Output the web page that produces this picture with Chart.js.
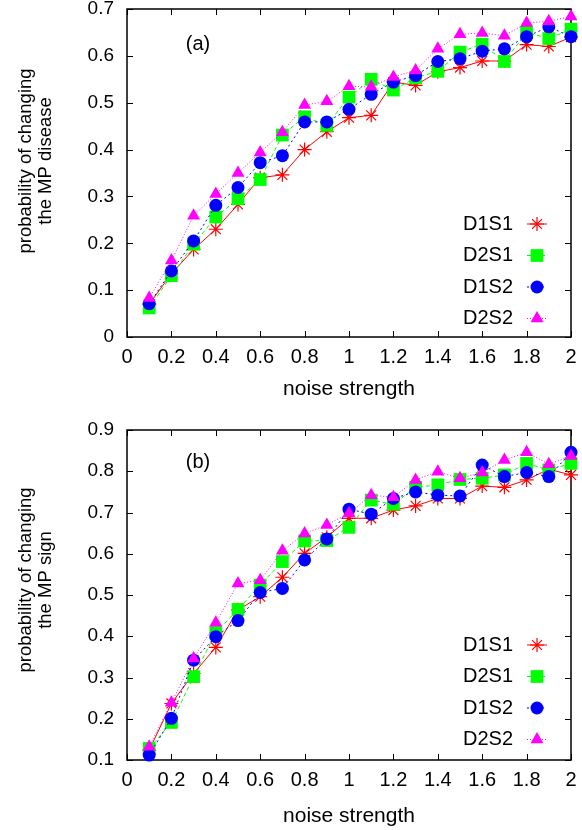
<!DOCTYPE html>
<html>
<head>
<meta charset="utf-8">
<script src="https://cdn.jsdelivr.net/npm/chart.js@4.4.0/dist/chart.umd.min.js"></script>
<style>
html, body { margin: 0; padding: 0; background: #fff; }
#wrap { position: relative; width: 582px; height: 830px; overflow: hidden; }
canvas { position: absolute; left: 0; }
#c1 { top: 0; }
#c2 { top: 415px; }
</style>
</head>
<body>
<div id="wrap">
	<canvas id="c1" width="582" height="415"></canvas>
	<canvas id="c2" width="582" height="415"></canvas>
</div>
<script>
// noise strength values (x)
var noise = [0.1, 0.2, 0.3, 0.4, 0.5, 0.6, 0.7, 0.8, 0.9, 1.0,
             1.1, 1.2, 1.3, 1.4, 1.5, 1.6, 1.7, 1.8, 1.9, 2.0];
var seriesNames = ['D1S1', 'D2S1', 'D1S2', 'D2S2'];

// (a) probability of changing the MP disease
var diseaseD1S1 = [0.070, 0.135, 0.187, 0.230, 0.283, 0.340, 0.346, 0.400, 0.438, 0.468,
                   0.473, 0.544, 0.537, 0.566, 0.575, 0.589, 0.589, 0.624, 0.620, 0.640];
var diseaseD2S1 = [0.062, 0.131, 0.198, 0.256, 0.295, 0.336, 0.431, 0.470, 0.452, 0.512,
                   0.550, 0.527, 0.553, 0.567, 0.608, 0.625, 0.588, 0.650, 0.637, 0.657];
var diseaseD1S2 = [0.071, 0.141, 0.205, 0.281, 0.319, 0.372, 0.387, 0.459, 0.459, 0.486,
                   0.518, 0.544, 0.558, 0.588, 0.594, 0.610, 0.615, 0.641, 0.662, 0.641];
var diseaseD2S2 = [0.083, 0.163, 0.259, 0.305, 0.350, 0.394, 0.437, 0.495, 0.503, 0.535,
                   0.534, 0.555, 0.569, 0.615, 0.646, 0.649, 0.643, 0.670, 0.674, 0.684];

// (b) probability of changing the MP sign
var signD1S1 = [0.124, 0.237, 0.310, 0.373, 0.464, 0.496, 0.543, 0.601, 0.640, 0.686,
                0.686, 0.706, 0.716, 0.734, 0.734, 0.764, 0.761, 0.779, 0.805, 0.791];
var signD2S1 = [0.128, 0.191, 0.302, 0.409, 0.465, 0.524, 0.581, 0.631, 0.632, 0.664,
                0.730, 0.720, 0.761, 0.767, 0.780, 0.783, 0.791, 0.819, 0.803, 0.819];
var signD1S2 = [0.112, 0.201, 0.342, 0.399, 0.438, 0.506, 0.516, 0.585, 0.636, 0.708,
                0.696, 0.734, 0.750, 0.742, 0.740, 0.815, 0.787, 0.797, 0.787, 0.846];
var signD2S2 = [0.132, 0.239, 0.346, 0.433, 0.528, 0.536, 0.607, 0.649, 0.670, 0.698,
                0.742, 0.737, 0.779, 0.799, 0.783, 0.797, 0.827, 0.846, 0.817, 0.837];

var FONT = '"Liberation Sans", Arial, sans-serif';
Chart.defaults.font.family = FONT;
Chart.defaults.font.size = 19;
Chart.defaults.color = '#000';

// gnuplot-like look for each series
var seriesStyle = [
	{ color: '#ff0000', dash: [],     point: 'star',     radius: 7,   pbw: 1.2 },
	{ color: '#00ff00', dash: [4, 3], point: 'rect',     radius: 9,   pbw: 0 },
	{ color: '#0000ff', dash: [2, 3], point: 'circle',   radius: 6.5, pbw: 0 },
	{ color: '#ff00ff', dash: [1, 2], point: 'triangle', radius: 7.5, pbw: 0 }
];

function fmt(v) {
	return String(Math.round(v * 10) / 10);
}

// frame with inward ticks on all four sides, plus key and labels
var gnuFrame = {
	id: 'gnuFrame',
	beforeDatasetsDraw: function(chart) {
		var ctx = chart.ctx, ca = chart.chartArea;
		var sx = chart.scales.x, sy = chart.scales.y;
		ctx.save();
		ctx.strokeStyle = '#000';
		ctx.lineWidth = 1.5;
		ctx.strokeRect(ca.left, ca.top, ca.right - ca.left, ca.bottom - ca.top);
		ctx.lineWidth = 1;
		ctx.beginPath();
		sx.ticks.forEach(function(t) {
			var px = Math.round(sx.getPixelForValue(t.value)) + 0.5;
			ctx.moveTo(px, ca.bottom); ctx.lineTo(px, ca.bottom - 6);
			ctx.moveTo(px, ca.top); ctx.lineTo(px, ca.top + 6);
		});
		sy.ticks.forEach(function(t) {
			var py = Math.round(sy.getPixelForValue(t.value)) + 0.5;
			ctx.moveTo(ca.left, py); ctx.lineTo(ca.left + 6, py);
			ctx.moveTo(ca.right, py); ctx.lineTo(ca.right - 6, py);
		});
		ctx.stroke();
		ctx.restore();
	},
	afterDraw: function(chart, args, o) {
		var ctx = chart.ctx, ca = chart.chartArea;
		ctx.save();
		ctx.fillStyle = '#000';
		// panel label
		ctx.font = '20px ' + FONT;
		ctx.textAlign = 'center';
		ctx.textBaseline = 'middle';
		ctx.fillText(o.panel, ca.left + 71, ca.top + o.panelY);
		// y title, two lines
		ctx.font = '18.5px ' + FONT;
		for (var k = 0; k < o.yTitle.length; k++) {
			ctx.save();
			ctx.translate(o.yTitleX[k], o.yTitleY);
			ctx.rotate(-Math.PI / 2);
			ctx.textAlign = 'center';
			ctx.textBaseline = 'alphabetic';
			ctx.fillText(o.yTitle[k], 0, 0);
			ctx.restore();
		}
		// key
		ctx.font = '20px ' + FONT;
		chart.data.datasets.forEach(function(ds, i) {
			var y = ca.top + o.keyTop + i * 31.5;
			ctx.fillStyle = '#000';
			ctx.textAlign = 'right';
			ctx.textBaseline = 'middle';
			ctx.fillText(ds.label, ca.left + 386, y);
			ctx.strokeStyle = ds.borderColor;
			ctx.lineWidth = 1;
			ctx.setLineDash(ds.borderDash);
			ctx.beginPath();
			ctx.moveTo(ca.left + 400, y);
			ctx.lineTo(ca.left + 420, y);
			ctx.stroke();
			ctx.setLineDash([]);
			ctx.fillStyle = ds.pointBackgroundColor;
			ctx.strokeStyle = ds.pointBorderColor;
			ctx.lineWidth = ds.pointBorderWidth;
			Chart.helpers.drawPoint(ctx, {
				pointStyle: ds.pointStyle,
				radius: ds.pointRadius,
				borderWidth: ds.pointBorderWidth,
				rotation: 0
			}, ca.left + 410, y);
		});
		ctx.restore();
	}
};

function makePanel(id, values, o) {
	var datasets = [];
	for (var i = 0; i < seriesNames.length; i++) {
		var st = seriesStyle[i];
		datasets.push({
			label: seriesNames[i],
			data: noise.map(function(x, j) { return { x: x, y: values[i][j] }; }),
			borderColor: st.color,
			backgroundColor: st.color,
			borderWidth: 1,
			borderDash: st.dash,
			pointStyle: st.point,
			pointRadius: st.radius,
			pointBorderWidth: st.pbw,
			pointBackgroundColor: st.color,
			pointBorderColor: st.color,
			tension: 0,
			fill: false,
			clip: false,
			order: 4 - i
		});
	}
	return new Chart(document.getElementById(id), {
		type: 'line',
		data: { datasets: datasets },
		options: {
			responsive: false,
			animation: false,
			events: [],
			layout: { padding: { top: o.padTop, right: 11, left: 0, bottom: 0 } },
			scales: {
				x: {
					type: 'linear',
					min: 0,
					max: 2,
					grid: { display: false, drawTicks: false },
					border: { display: false },
					ticks: { stepSize: 0.2, padding: 8, maxRotation: 0, autoSkip: false, callback: fmt, font: { size: 20 } },
					title: { display: true, text: 'noise strength', font: { size: 21 }, padding: { top: 0, bottom: o.xTitlePad } },
					afterFit: function(s) { s.height = o.xAxisH; s.paddingLeft = 0; s.paddingRight = 0; }
				},
				y: {
					min: o.ymin,
					max: o.ymax,
					grid: { display: false, drawTicks: false },
					border: { display: false },
					ticks: { stepSize: 0.1, padding: 13, callback: fmt },
					afterFit: function(s) { s.width = 127; s.paddingTop = 0; s.paddingBottom = 0; }
				}
			},
			plugins: {
				legend: { display: false },
				tooltip: { enabled: false },
				gnuFrame: o.frame
			}
		},
		plugins: [gnuFrame]
	});
}

makePanel('c1', [diseaseD1S1, diseaseD2S1, diseaseD1S2, diseaseD2S2], {
	padTop: 7, xAxisH: 78, xTitlePad: 13, ymin: 0, ymax: 0.7,
	frame: { panel: '(a)', panelY: 35, yTitle: ['probability of changing', 'the MP disease'],
	         yTitleX: [31, 51], yTitleY: 161, keyTop: 215 }
});

makePanel('c2', [signD1S1, signD2S1, signD1S2, signD2S2], {
	padTop: 15, xAxisH: 70, xTitlePad: 1, ymin: 0.1, ymax: 0.9,
	frame: { panel: '(b)', panelY: 32, yTitle: ['probability of changing', 'the MP sign'],
	         yTitleX: [31, 51], yTitleY: 165, keyTop: 215 }
});
</script>
</body>
</html>
